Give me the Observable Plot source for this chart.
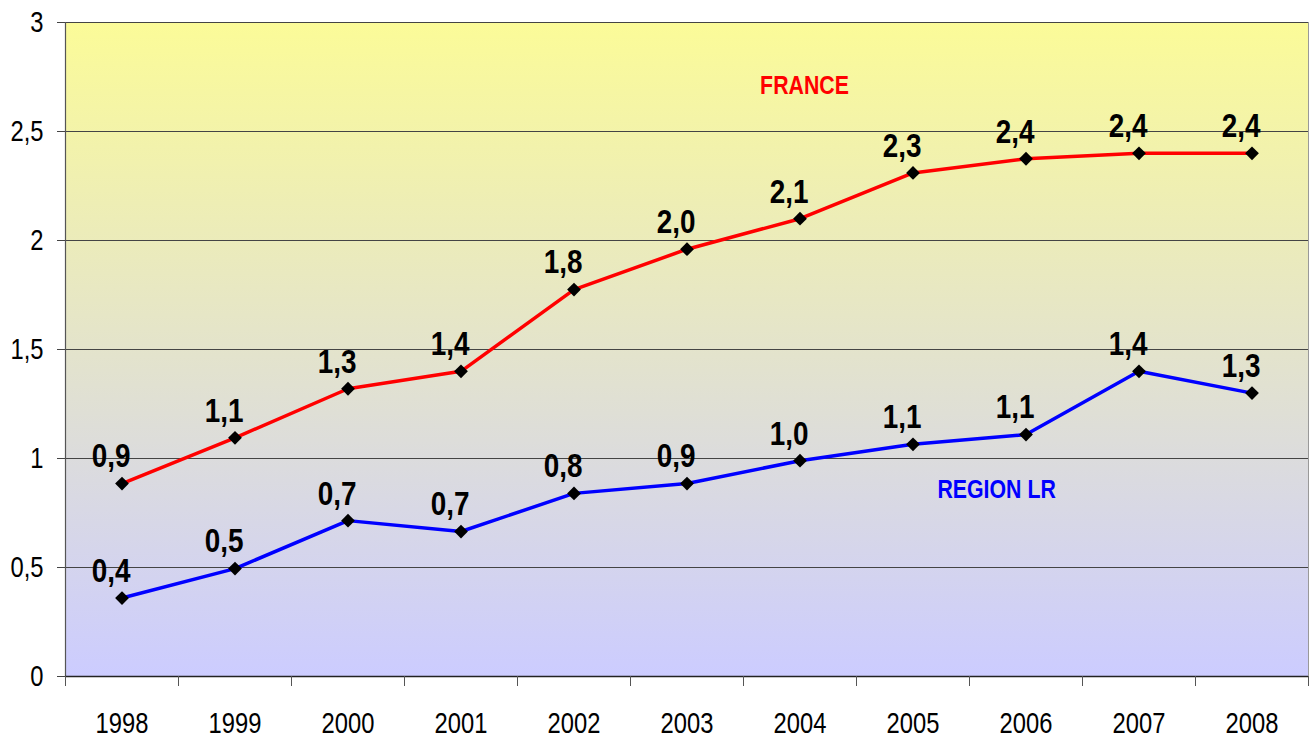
<!DOCTYPE html>
<html>
<head>
<meta charset="utf-8">
<script src="https://cdn.jsdelivr.net/npm/d3@7"></script>
<script src="https://cdn.jsdelivr.net/npm/@observablehq/plot@0.6"></script>
<style>
  html, body { margin: 0; padding: 0; background: white; }
  #chart { width: 1309px; height: 742px; }
</style>
</head>
<body>
<div id="chart"></div>
<script>
const years = [1998, 1999, 2000, 2001, 2002, 2003, 2004, 2005, 2006, 2007, 2008];
const franceValues = [0.885, 1.095, 1.32, 1.40, 1.775, 1.96, 2.10, 2.31, 2.375, 2.40, 2.40];
const regionValues = [0.36, 0.495, 0.715, 0.665, 0.84, 0.885, 0.99, 1.065, 1.11, 1.40, 1.30];
const franceLabels = ["0,9", "1,1", "1,3", "1,4", "1,8", "2,0", "2,1", "2,3", "2,4", "2,4", "2,4"];
const regionLabels = ["0,4", "0,5", "0,7", "0,7", "0,8", "0,9", "1,0", "1,1", "1,1", "1,4", "1,3"];
const yTicks = [0, 0.5, 1, 1.5, 2, 2.5, 3];
const seriesNames = ["FRANCE", "REGION LR"];

const france = years.map((y, i) => ({year: y, value: franceValues[i], label: franceLabels[i]}));
const region = years.map((y, i) => ({year: y, value: regionValues[i], label: regionLabels[i]}));
const boundaries = [...years.map(y => y - 0.5), years[years.length - 1] + 0.5];

const font = "'Liberation Sans', Arial, sans-serif";

const svg = Plot.plot({
  width: 1309,
  height: 742,
  marginLeft: 65,
  marginRight: 1,
  marginTop: 22,
  marginBottom: 66,
  style: {fontFamily: font, background: "white", overflow: "visible"},
  x: {domain: [1997.5, 2008.5], label: null},
  y: {domain: [0, 3], label: null},
  marks: [
    Plot.frame({fill: "url(#bgGrad)", stroke: "#999"}),
    Plot.gridY(yTicks.filter(d => d > 0), {stroke: "#444", strokeOpacity: 1, strokeWidth: 1}),
    Plot.ruleX([1997.5], {stroke: "#555", strokeWidth: 1.2}),
    Plot.ruleY([0], {stroke: "#222", strokeWidth: 1.5}),
    Plot.axisY({ticks: yTicks, tickSize: 8, tickPadding: 14, fontSize: 29, label: null,
      tickFormat: d => String(d).replace(".", ","), stroke: "#444", fill: "black"}),
    Plot.axisX({ticks: boundaries, tickSize: 10, tickFormat: () => "", label: null, stroke: "#555"}),
    Plot.axisX({ticks: years, tickSize: 0, tickPadding: 36, fontSize: 29, label: null,
      tickFormat: d => String(d), fill: "black"}),
    Plot.line(france, {x: "year", y: "value", stroke: "#ff0000", strokeWidth: 3.5}),
    Plot.line(region, {x: "year", y: "value", stroke: "#0000ff", strokeWidth: 3.5}),
    Plot.dot(france, {x: "year", y: "value", symbol: "square", rotate: 45, fill: "black", r: 5.5}),
    Plot.dot(region, {x: "year", y: "value", symbol: "square", rotate: 45, fill: "black", r: 5.5}),
    Plot.text(france, {x: "year", y: "value", text: "label", dx: -11, dy: -27,
      fontSize: 34, fontWeight: "bold", fill: "black", lineAnchor: "middle"}),
    Plot.text(region, {x: "year", y: "value", text: "label", dx: -11, dy: -27,
      fontSize: 34, fontWeight: "bold", fill: "black", lineAnchor: "middle"}),
    Plot.text([seriesNames[0]], {x: [2004.04], y: [2.71], text: d => d,
      fontSize: 26, fontWeight: "bold", fill: "#ff0000", lineAnchor: "middle"}),
    Plot.text([seriesNames[1]], {x: [2005.74], y: [0.858], text: d => d,
      fontSize: 26, fontWeight: "bold", fill: "#0000ff", lineAnchor: "middle"})
  ]
});

const defs = d3.select(svg).insert("defs", ":first-child");
const grad = defs.append("linearGradient").attr("id", "bgGrad")
  .attr("x1", 0).attr("y1", 0).attr("x2", 0).attr("y2", 1);
grad.append("stop").attr("offset", "0%").attr("stop-color", "#fbfb98");
grad.append("stop").attr("offset", "100%").attr("stop-color", "#ccccff");

// condense the text horizontally (Arial Narrow look)
d3.select(svg).selectAll("text").each(function () {
  const t = this.getAttribute("transform") || "";
  const x = this.getAttribute("x");
  if (x != null) {
    const y = this.getAttribute("y") || 0;
    this.removeAttribute("x");
    this.removeAttribute("y");
    this.setAttribute("transform", `${t} translate(${x},${y}) scale(0.82,1)`);
  } else {
    this.setAttribute("transform", `${t} scale(0.82,1)`);
  }
});

document.getElementById("chart").appendChild(svg);
</script>
</body>
</html>
